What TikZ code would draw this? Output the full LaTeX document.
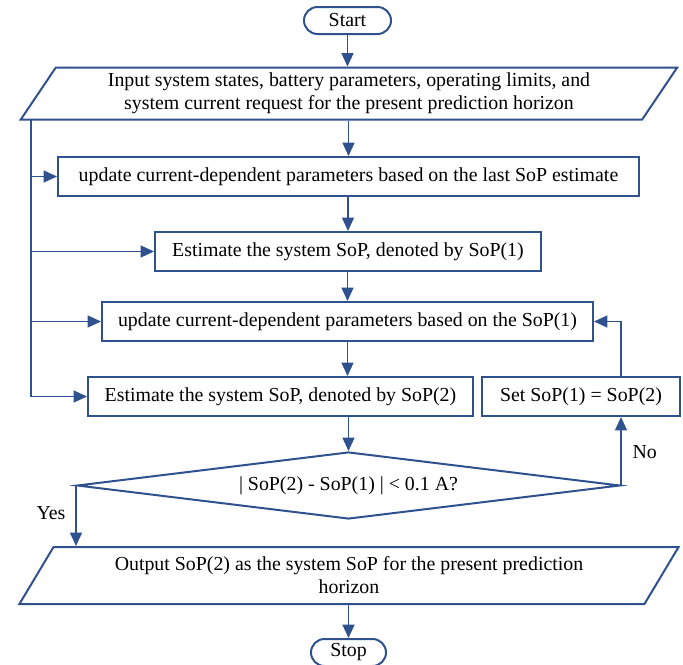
\documentclass[tikz,border=0pt]{standalone}
\usepackage{fontspec}
\setmainfont{Liberation Serif}
\usetikzlibrary{shapes.geometric,shapes.misc,arrows.meta}

\definecolor{flowblue}{RGB}{47,82,143}

\tikzset{every picture/.style={line width=0.75pt}}
\tikzset{
base/.style={draw=flowblue, line width=1.5pt, text=black, inner sep=0pt,
  font=\fontsize{14.9}{17.3}\selectfont, align=center},
terminal/.style={base, rounded rectangle, minimum height=20.25pt},
box/.style={base, rectangle, minimum height=29.25pt},
io/.style={base, trapezium, trapezium stretches=true},
decision/.style={base, diamond, aspect=8},
flow/.style={draw=flowblue, line width=0.9pt, -{Triangle[length=10pt,width=9pt]}},
label/.style={font=\fontsize{14.9}{17.3}\selectfont, inner sep=0.75pt}
}

\begin{document}
\begin{tikzpicture}[x=0.75pt,y=0.75pt,yscale=-1,xscale=1]
\useasboundingbox (0,0) rectangle (683,665);

%Shape: Terminal
\node [terminal, minimum width=65.25pt] (start) at (347.5,20.5) {Start};
%Shape: Data
\node [io, trapezium left angle=55, trapezium right angle=125,
  minimum width=495pt, minimum height=39pt] (input) at (349,93.5)
  {Input system states, battery parameters, operating limits, and\\
   system current request for the present prediction horizon};
%Shape: Rectangle
\node [box, minimum width=435.75pt] (upd1) at (348.5,176.5)
  {update current-dependent parameters based on the last SoP estimate};
\node [box, minimum width=289.5pt] (est1) at (348,251.5)
  {Estimate the system SoP, denoted by SoP(1)};
\node [box, minimum width=368.25pt] (upd2) at (347.5,321.5)
  {update current-dependent parameters based on the SoP(1)};
\node [box, minimum width=288.75pt] (est2) at (280.5,396.5)
  {Estimate the system SoP, denoted by SoP(2)};
\node [box, minimum width=148.5pt] (setb) at (581,396.5)
  {Set SoP(1) = SoP(2)};
%Shape: Decision
\node [decision, minimum width=407.25pt, minimum height=50.25pt] (dec) at (348.5,485.5)
  {| SoP(2) - SoP(1) | < 0.1 A?};
%Shape: Data
\node [io, trapezium left angle=54, trapezium right angle=126,
  minimum width=495pt, minimum height=42.75pt] (output) at (349,575.5)
  {Output SoP(2) as the system SoP for the present prediction\\ horizon};
%Shape: Terminal
\node [terminal, minimum width=56.25pt] (stop) at (348.5,652.5) {Stop};

% Text Node
\node [label, anchor=west] (yes) at (35,513) {Yes};
% Text Node
\node [label, anchor=west] (no) at (631,452) {No};

%Straight Lines
\coordinate (spine) at (31,119.5);
\draw [flow] (start.south) -- (start.south |- input.north);
\draw [flow] (upd1.north |- input.south) -- (upd1.north);
\draw [flow] (est1.north |- upd1.south) -- (est1.north);
\draw [flow] (upd2.north |- est1.south) -- (upd2.north);
\draw [flow] (upd2.south) -- (upd2.south |- est2.north);
\draw [flow] (dec.north |- est2.south) -- (dec.north);
\draw [flow] (spine) |- (est2.west);
\foreach \n in {upd1,est1,upd2}
  \draw [flow] (spine |- \n.west) -- (\n.west);
\draw [flow] (dec.west) -- (dec.west |- output.north);
\draw [flow] (dec.east) -- (dec.east |- setb.south);
\draw [flow] (dec.east |- setb.north) |- (upd2.east);
\draw [flow] (stop.north |- output.south) -- (stop.north);

\end{tikzpicture}
\end{document}
